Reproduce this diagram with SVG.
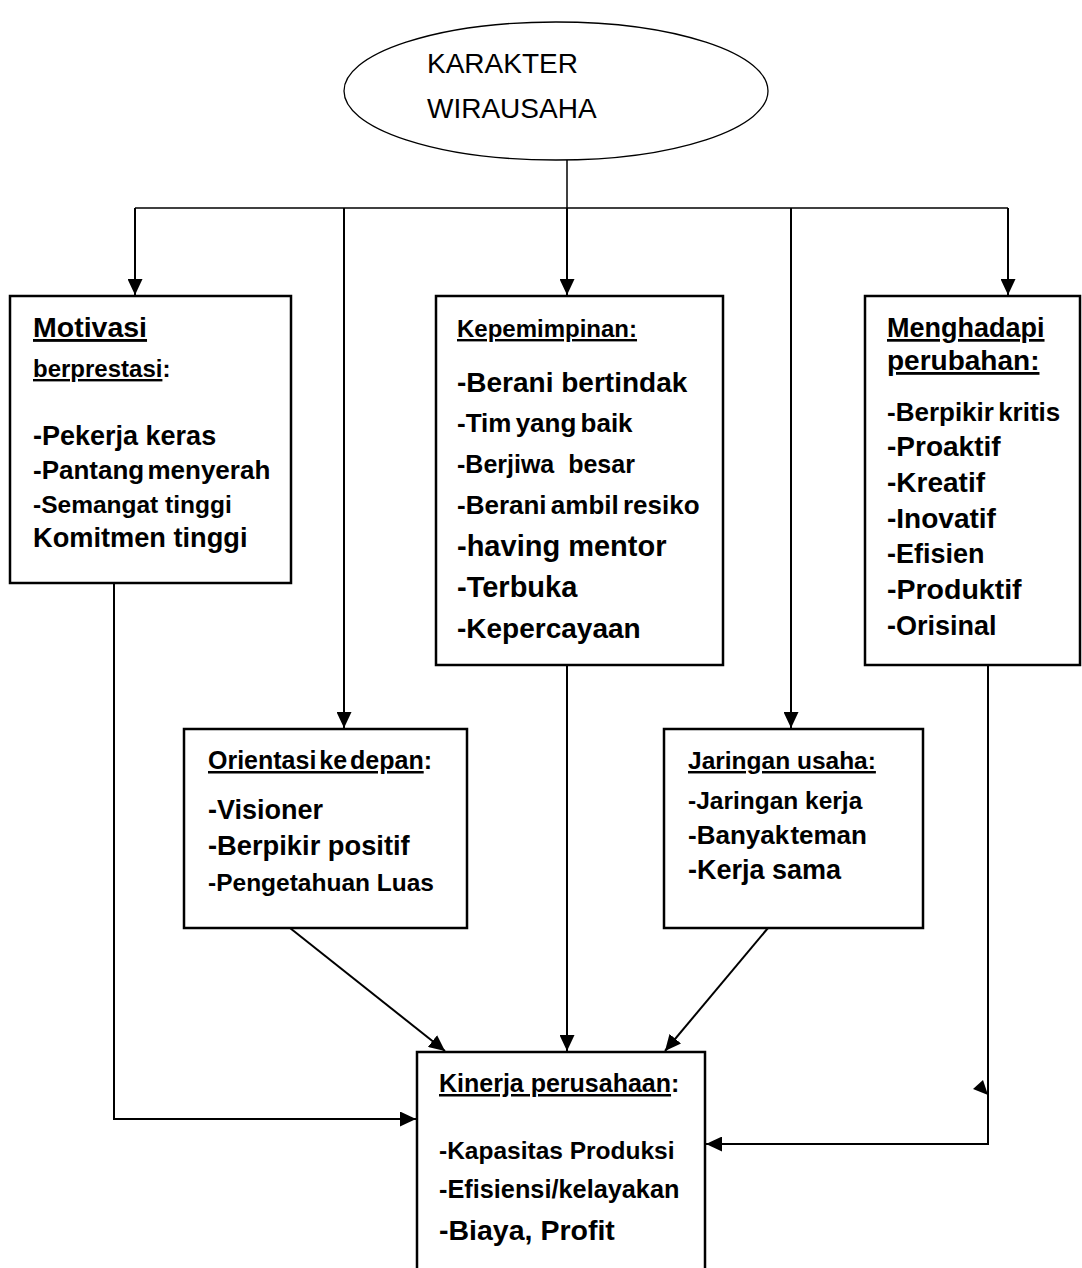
<svg xmlns="http://www.w3.org/2000/svg" width="1082" height="1268" viewBox="0 0 1082 1268">
<style>
text{font-family:"Liberation Sans",Arial,sans-serif;fill:#000}
.b{font-weight:bold}
.u{text-decoration:underline}
.box{fill:#fff;stroke:#000;stroke-width:2.5}
.ln{fill:none;stroke:#000;stroke-width:2}
.thin{fill:none;stroke:#000;stroke-width:1.5}
</style>
<defs>
<marker id="ah" markerUnits="userSpaceOnUse" markerWidth="17" markerHeight="15" refX="16" refY="7.5" orient="auto">
<path d="M0,0 L16,7.5 L0,15 z" fill="#000"/>
</marker>
</defs>
<rect width="1082" height="1268" fill="#fff"/>

<g id="connectors">
<line class="thin" x1="567" y1="160" x2="567" y2="208"/>
<line class="thin" x1="135" y1="208" x2="1008" y2="208"/>
<line class="ln" x1="135" y1="208" x2="135" y2="295" marker-end="url(#ah)"/>
<line class="ln" x1="344" y1="208" x2="344" y2="728" marker-end="url(#ah)"/>
<line class="ln" x1="567" y1="208" x2="567" y2="295" marker-end="url(#ah)"/>
<line class="ln" x1="791" y1="208" x2="791" y2="728" marker-end="url(#ah)"/>
<line class="ln" x1="1008" y1="208" x2="1008" y2="295" marker-end="url(#ah)"/>
<polyline class="ln" points="114,583 114,1119 416,1119" marker-end="url(#ah)"/>
<line class="ln" x1="567" y1="665" x2="567" y2="1051" marker-end="url(#ah)"/>
<line class="ln" x1="290" y1="928" x2="445" y2="1051" marker-end="url(#ah)"/>
<line class="ln" x1="768" y1="928" x2="665" y2="1051" marker-end="url(#ah)"/>
<polyline class="ln" points="988,665 988,1144 706,1144" marker-end="url(#ah)"/>
<polygon points="973,1089 983,1080 988,1095" fill="#000"/>
</g>

<g id="karakter">
<ellipse cx="556" cy="91" rx="212" ry="69" fill="#fff" stroke="#000" stroke-width="1.3"/>
<text x="427" y="73" font-size="28">KARAKTER</text>
<text x="427" y="118" font-size="28">WIRAUSAHA</text>
</g>

<g id="motivasi">
<rect class="box" x="10" y="296" width="281" height="287"/>
<text class="b u" x="33" y="337" font-size="28.5">Motivasi</text>
<text class="b" x="33" y="377" font-size="24"><tspan class="u">berprestasi</tspan>:</text>
<text class="b" x="33" y="445" font-size="27">-Pekerja keras</text>
<text class="b" x="33" y="479" font-size="26" word-spacing="-4">-Pantang menyerah</text>
<text class="b" x="33" y="513" font-size="24.5">-Semangat tinggi</text>
<text class="b" x="33" y="547" font-size="27.2">Komitmen tinggi</text>
</g>

<g id="kepemimpinan">
<rect class="box" x="436" y="296" width="287" height="369"/>
<text class="b u" x="457" y="337" font-size="24">Kepemimpinan:</text>
<text class="b" x="457" y="392" font-size="28">-Berani bertindak</text>
<text class="b" x="457" y="432" font-size="26" word-spacing="-3">-Tim yang baik</text>
<text class="b" x="457" y="473" font-size="25" xml:space="preserve">-Berjiwa  besar</text>
<text class="b" x="457" y="514" font-size="26" word-spacing="-3">-Berani ambil resiko</text>
<text class="b" x="457" y="556" font-size="29">-having mentor</text>
<text class="b" x="457" y="597" font-size="29">-Terbuka</text>
<text class="b" x="457" y="638" font-size="28">-Kepercayaan</text>
</g>

<g id="menghadapi">
<rect class="box" x="865" y="296" width="215" height="369"/>
<text class="b u" x="887" y="337" font-size="27">Menghadapi</text>
<text class="b u" x="887" y="370" font-size="28">perubahan:</text>
<text class="b" x="887" y="421" font-size="26" word-spacing="-3">-Berpikir kritis</text>
<text class="b" x="887" y="456" font-size="28">-Proaktif</text>
<text class="b" x="887" y="492" font-size="28">-Kreatif</text>
<text class="b" x="887" y="528" font-size="28">-Inovatif</text>
<text class="b" x="887" y="563" font-size="27">-Efisien</text>
<text class="b" x="887" y="599" font-size="28.5">-Produktif</text>
<text class="b" x="887" y="635" font-size="27">-Orisinal</text>
</g>

<g id="orientasi">
<rect class="box" x="184" y="729" width="283" height="199"/>
<text class="b" x="208" y="769" font-size="25" word-spacing="-4"><tspan class="u">Orientasi ke depan</tspan>:</text>
<text class="b" x="208" y="819" font-size="27">-Visioner</text>
<text class="b" x="208" y="855" font-size="27.3">-Berpikir positif</text>
<text class="b" x="208" y="891" font-size="24.5">-Pengetahuan Luas</text>
</g>

<g id="jaringan">
<rect class="box" x="664" y="729" width="259" height="199"/>
<text class="b u" x="688" y="769" font-size="24.5">Jaringan usaha:</text>
<text class="b" x="688" y="809" font-size="24.5">-Jaringan kerja</text>
<text class="b" x="688" y="844" font-size="26" word-spacing="-6">-Banyak teman</text>
<text class="b" x="688" y="879" font-size="27">-Kerja sama</text>
</g>

<g id="kinerja">
<rect class="box" x="417" y="1052" width="288" height="230"/>
<text class="b" x="439" y="1092" font-size="25"><tspan class="u">Kinerja perusahaan</tspan>:</text>
<text class="b" x="439" y="1159" font-size="24.5">-Kapasitas Produksi</text>
<text class="b" x="439" y="1198" font-size="25.3">-Efisiensi/kelayakan</text>
<text class="b" x="439" y="1240" font-size="28.5">-Biaya, Profit</text>
</g>
</svg>
